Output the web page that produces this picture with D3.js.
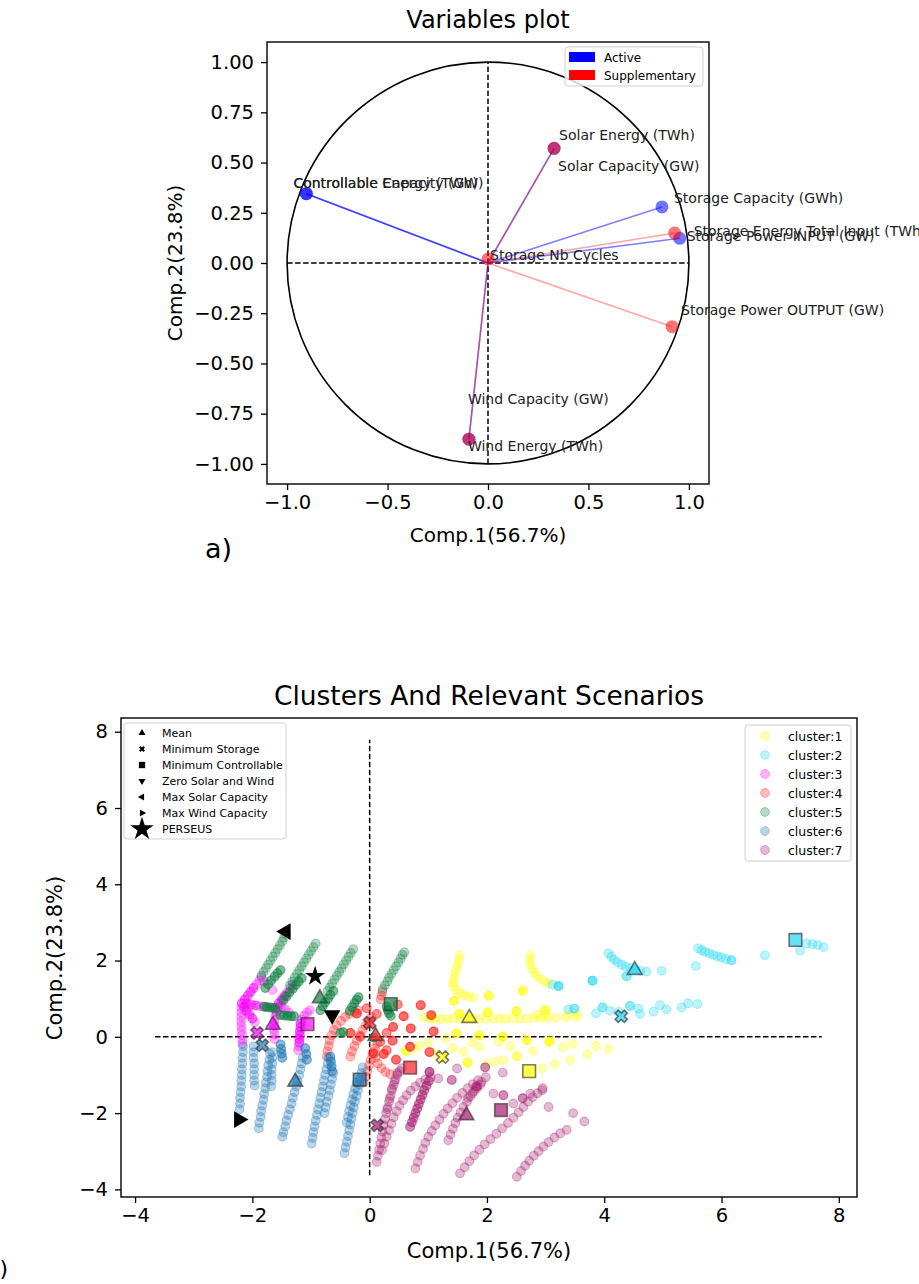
<html>
<head>
  <meta charset="utf-8">
  <style>
    body { margin: 0; background: #fff; }
    text { font-family: "DejaVu Sans", sans-serif; }
  </style>
</head>
<body>
<script src="https://d3js.org/d3.v7.min.js"></script>
<script>
// ---------- panel a) variables plot ----------
var varNames = ["Controllable Capacity (GW)", "Controllable Energy (TWh)", "Solar Capacity (GW)", "Solar Energy (TWh)",
  "Wind Capacity (GW)", "Wind Energy (TWh)", "Storage Capacity (GWh)", "Storage Power INPUT (GW)",
  "Storage Energy Total Input (TWh)", "Storage Power OUTPUT (GW)", "Storage Nb Cycles"];
var varComp1 = [-0.904, -0.904, 0.329, 0.329, -0.095, -0.095, 0.866, 0.954, 0.929, 0.916, 0.0];
var varComp2 = [0.345, 0.345, 0.571, 0.571, -0.877, -0.877, 0.279, 0.123, 0.149, -0.317, 0.02];
var varRole = ["Active", "Active", "Active", "Supplementary", "Active", "Supplementary",
  "Active", "Active", "Supplementary", "Supplementary", "Supplementary"];
var roleNames = ["Active", "Supplementary"];
var topXTicks = [-1.0, -0.5, 0.0, 0.5, 1.0];
var topYTicks = [-1.0, -0.75, -0.5, -0.25, 0.0, 0.25, 0.5, 0.75, 1.0];

// ---------- panel b) clusters (x, y, number of overlapping scenarios) ----------
var clusterNames = ["cluster:1", "cluster:2", "cluster:3", "cluster:4", "cluster:5", "cluster:6", "cluster:7"];
var cluster1 = [
  [1.53,2.14],[1.52,2.02],[1.50,1.90],[1.48,1.78],[1.46,1.66],[1.44,1.54],[1.42,1.42],[1.43,1.32],[1.48,1.22],[1.54,1.14],[1.61,1.09],[1.69,1.06],[1.77,1.03],
  [2.74,2.14],[2.73,2.02],[2.74,1.90],[2.77,1.78],[2.81,1.68],[2.86,1.58],[2.92,1.50],[2.99,1.44],[3.06,1.40],
  [0.92,0.52],[1.02,0.48],[1.12,0.47],[1.22,0.46],[1.32,0.47],[1.42,0.48],[1.54,0.47],[1.64,0.49],[1.76,0.47],[1.86,0.48],[1.98,0.47],[2.10,0.48],
  [2.22,0.48],[2.32,0.47],[2.44,0.49],[2.56,0.47],[2.68,0.48],[2.80,0.50],[2.92,0.48],[3.04,0.49],[3.18,0.50],[3.34,0.52],[3.52,0.52],
  [2.86,0.58],[3.00,0.58],[3.40,0.58],[3.55,0.60],
  [1.44,0.94,3],[2.03,1.08,3],[2.61,1.21,3],[1.53,0.60,3],[2.01,0.64,3],[2.50,0.67,3],[2.99,0.70,3],[1.48,0.09,3],[1.87,0.04,3],
  [2.27,0.00,3],[2.68,-0.09,3],[3.06,-0.13,3],[1.67,-0.67,3],[0.62,-0.37,3],[2.51,-0.51,2],[1.06,0.52,2],
  [0.85,-0.24],[1.00,-0.15],[1.29,-0.03],[1.60,-0.39],[1.87,-0.26],[2.20,-0.13],[2.79,-0.37],[3.08,-0.09],[3.46,-0.19],[3.86,-0.24],[4.07,-0.32],
  [2.00,-0.70],[2.14,-0.66],[2.28,-0.61],[2.94,-0.83],[3.16,-0.72],[3.42,-0.61],[3.71,-0.46],[1.10,-0.42],[1.42,-0.30],[2.40,-0.25],[3.30,-0.28],[1.75,-0.15],[0.75,-0.30]
];
var cluster2 = [
  [4.07,2.19],[4.12,2.10],[4.17,2.02],[4.23,1.95],[4.30,1.89],[4.37,1.84],[4.45,1.80],[4.53,1.76],[4.62,1.73],[4.72,1.71],
  [5.60,2.32],[5.66,2.27],[5.72,2.23],[5.79,2.19],[5.86,2.15],[5.93,2.11],[6.00,2.08],[6.08,2.04],[6.17,2.01,2],
  [6.74,2.14],[7.34,2.26],[7.45,2.45],[7.55,2.43],[7.64,2.41],[7.74,2.35],[4.98,1.73],[5.56,1.86],[3.80,1.47,3],[3.22,1.33,3],[3.12,1.37],[4.38,1.59,2],
  [3.39,0.72],[3.49,0.74,2],[3.86,0.61],[3.97,0.77,2],[4.10,0.68],[4.44,0.81,2],[4.61,0.60],[4.84,0.66],[4.95,0.83],[5.06,0.72],
  [5.32,0.77],[5.43,0.88],[5.59,0.86],[4.25,0.66],[4.58,0.74]
];
var cluster3 = [
  [-2.18,0.88,2],[-2.13,0.98,2],[-2.08,1.08,2],[-2.03,1.18,2],[-1.98,1.28,2],[-1.93,1.38],[-1.88,1.48],[-1.84,1.56],
  [-2.14,0.78,2],[-2.10,0.68,2],[-2.05,0.58,2],[-2.00,0.48,2],[-1.96,0.38],
  [-2.10,0.86,2],[-2.02,0.84,2],[-1.94,0.82,2],[-1.86,0.80],[-1.78,0.79],
  [-2.19,0.76],[-2.19,0.64],[-2.19,0.52],[-2.19,0.40],[-2.19,0.28],[-2.18,0.16],[-2.18,0.04],[-2.17,-0.08],[-2.17,-0.18],
  [-1.55,0.88,2],[-1.50,0.98,2],[-1.45,1.08,2],[-1.40,1.18],[-1.35,1.28],[-1.31,1.38],[-1.57,0.78,2],[-1.59,0.66,2],[-1.61,0.54],
  [-1.62,0.42],[-1.63,0.30],[-1.63,0.18],[-1.62,0.06],[-1.62,-0.06],[-1.50,0.80],[-1.44,0.72],[-1.38,0.64],
  [-1.22,-0.35],[-1.21,-0.25],[-1.20,-0.15,2],[-1.20,-0.05,2],[-1.19,0.05,2],[-1.19,0.15,2],[-1.18,0.25,2],[-1.18,0.35,2],
  [-1.16,0.45],[-1.12,0.55],[-1.07,0.63],[-1.02,0.70],[-1.66,1.23],[-1.80,1.45]
];
var cluster4 = [
  [-0.73,-0.52],[-0.72,-0.38],[-0.70,-0.24],[-0.68,-0.10],[-0.65,0.04],[-0.61,0.18],[-0.56,0.30],[-0.49,0.42],[-0.42,0.52],[-0.34,0.60],[-0.26,0.66],[-0.20,0.70],
  [-0.33,-0.52],[-0.30,-0.38],[-0.26,-0.24],[-0.22,-0.10],[-0.17,0.04],[-0.12,0.18],[-0.07,0.30],[-0.02,0.42],[0.03,0.52],
  [-0.10,-1.20],[-0.07,-1.05],[-0.04,-0.90],[-0.01,-0.75],[0.02,-0.60],[0.05,-0.45],[0.09,-0.30],[0.13,-0.17],
  [0.06,-0.40],[0.10,-0.55],[0.14,-0.70],[0.20,-0.82],[0.27,-0.92],[0.35,-0.98],[0.22,1.18],[0.20,1.08],[0.19,0.98],
  [0.87,0.83,3],[1.05,0.57,3],[0.58,0.54,3],[0.70,0.22,3],[1.09,0.14,3],[0.39,-0.10,3],[0.69,-0.26,3],[1.02,-0.40,3],[0.45,-0.60,3],
  [0.24,-0.45,3],[-0.22,0.61,3],[0.40,0.26,3],[0.29,0.10,2],[0.18,-0.13,2],[0.07,-0.44,2],[-0.33,0.10,3],[-0.16,0.00,2],[0.29,-0.35,2],
  [0.48,0.85,2],[0.12,0.60,2],[-0.05,0.75,2]
];
var cluster5 = [
  [-1.85,1.60],[-1.81,1.70],[-1.77,1.80],[-1.73,1.90],[-1.69,2.00],[-1.65,2.10],[-1.61,2.20],[-1.57,2.30],[-1.53,2.40],[-1.49,2.50],[-1.46,2.60],[-1.43,2.70],
  [-1.78,1.28,2],[-1.73,1.38,2],[-1.68,1.48,2],[-1.62,1.58,2],[-1.57,1.67,2],[-1.52,1.75,2],
  [-1.80,0.79,2],[-1.75,0.78,2],[-1.70,0.77,2],[-1.65,0.76,2],[-1.61,0.75,2],
  [-1.36,1.35],[-1.32,1.45],[-1.28,1.55],[-1.24,1.65],[-1.20,1.75],[-1.16,1.85],[-1.12,1.95],[-1.08,2.05],[-1.04,2.15],[-1.00,2.25],[-0.96,2.35],[-0.92,2.45],
  [-1.47,0.96,2],[-1.42,1.06,2],[-1.37,1.16,2],[-1.31,1.26,2],[-1.26,1.36,2],[-1.21,1.45,2],[-1.16,1.54,2],
  [-1.52,0.57,2],[-1.46,0.56,2],[-1.40,0.55,2],[-1.34,0.54,2],[-1.29,0.54,2],
  [-0.72,1.20],[-0.68,1.30],[-0.64,1.40],[-0.60,1.50],[-0.56,1.60],[-0.52,1.70],[-0.48,1.80],[-0.44,1.90],[-0.40,2.00],[-0.36,2.10],[-0.32,2.20],[-0.28,2.30],
  [-0.84,0.70,2],[-0.80,0.80,2],[-0.76,0.90,2],[-0.71,1.00,2],[-0.67,1.10,2],[-0.62,1.20,2],
  [-0.34,0.68,2],[-0.30,0.78,2],[-0.26,0.88,2],[-0.22,0.97,2],[-0.19,1.04,2],[-0.50,0.10,2],[-0.45,0.12,2],
  [0.22,1.25],[0.26,1.35],[0.30,1.45],[0.33,1.55],[0.37,1.65],[0.41,1.75],[0.45,1.85],[0.49,1.95],[0.53,2.05],[0.56,2.15],[0.59,2.22],
  [0.29,0.79,2],[0.31,0.70,2],[0.33,0.62,2],[0.36,0.55,2],[0.07,-0.02,2]
];
var cluster6 = [
  [-2.16,-0.25],[-2.16,-0.40],[-2.17,-0.55],[-2.17,-0.70],[-2.18,-0.85],[-2.18,-1.00],[-2.19,-1.15],[-2.19,-1.30],[-2.20,-1.45],[-2.21,-1.60],[-2.21,-1.75],[-2.22,-1.90],
  [-1.98,-0.25],[-1.98,-0.40],[-1.98,-0.55],[-1.97,-0.70],[-1.97,-0.85],[-1.97,-1.00],[-1.97,-1.15],[-1.96,-1.28],
  [-1.70,-0.45],[-1.71,-0.60],[-1.73,-0.75],[-1.74,-0.90],[-1.75,-1.05],[-1.77,-1.20],[-1.78,-1.35],[-1.80,-1.50],[-1.81,-1.65],[-1.83,-1.80],[-1.85,-1.95],[-1.86,-2.10],[-1.88,-2.25],[-1.89,-2.40],
  [-1.66,-0.40],[-1.66,-0.55],[-1.66,-0.70],[-1.67,-0.85],[-1.67,-1.00],[-1.67,-1.15],[-1.68,-1.30],
  [-1.52,-0.20,2],[-1.51,-0.32,2],[-1.50,-0.44,2],[-1.49,-0.55,2],
  [-1.14,-0.55],[-1.16,-0.70],[-1.18,-0.85],[-1.20,-1.00],[-1.23,-1.15],[-1.25,-1.30],[-1.28,-1.45],[-1.31,-1.60],[-1.33,-1.75],[-1.36,-1.90],[-1.39,-2.05],[-1.42,-2.20],[-1.44,-2.35],[-1.47,-2.50],[-1.49,-2.62],
  [-1.10,-0.30,2],[-1.08,-0.45,2],[-1.07,-0.60,2],
  [-0.70,-0.55],[-0.72,-0.70],[-0.74,-0.85],[-0.76,-1.00],[-0.78,-1.15],[-0.80,-1.30],[-0.82,-1.45],[-0.84,-1.60],[-0.86,-1.75],[-0.88,-1.90],[-0.90,-2.05],[-0.92,-2.20],[-0.94,-2.35],[-0.96,-2.50],[-0.97,-2.65],[-0.99,-2.80],
  [-0.67,-0.52,2],[-0.66,-0.65,2],[-0.65,-0.78,2],[-0.64,-0.90,2],
  [-0.62,-0.95],[-0.64,-1.10],[-0.66,-1.25],[-0.68,-1.40],[-0.70,-1.55],[-0.73,-1.70],[-0.75,-1.85],[-0.77,-2.00],
  [-0.12,-0.80],[-0.14,-0.95],[-0.16,-1.10],[-0.18,-1.25],[-0.20,-1.40],[-0.22,-1.55],[-0.25,-1.70],[-0.27,-1.85],[-0.29,-2.00],[-0.31,-2.15],[-0.33,-2.30],[-0.35,-2.45],[-0.37,-2.60],[-0.39,-2.75],[-0.41,-2.90],[-0.43,-3.05],
  [-0.22,-1.20],[-0.25,-1.35],[-0.28,-1.50],[-0.30,-1.65],[-0.33,-1.80],[-0.35,-1.95],[-0.37,-2.10],[-0.39,-2.25]
];
var cluster7 = [
  [0.12,-3.28],[0.14,-3.12],[0.16,-2.96],[0.18,-2.80],[0.20,-2.64],[0.22,-2.48],[0.24,-2.32],[0.26,-2.16],[0.28,-2.00],[0.31,-1.85],[0.33,-1.70],[0.36,-1.55],
  [0.38,-1.40],[0.41,-1.26],[0.44,-1.12],[0.47,-1.00],[0.51,-0.90],[0.55,-0.82],[0.30,-1.90],[0.34,-1.62],[0.38,-1.36],[0.42,-1.18],[0.47,-0.95],
  [0.21,-2.97],[0.25,-2.80],[0.29,-2.62],[0.33,-2.45],[0.37,-2.28],[0.41,-2.11],[0.46,-1.95],[0.51,-1.80],[0.57,-1.66],[0.63,-1.53],[0.70,-1.41],[0.78,-1.30],[0.86,-1.20],[0.95,-1.12],[1.04,-1.06],
  [0.78,-3.45],[0.82,-3.28],[0.86,-3.11],[0.91,-2.94],[0.95,-2.78],[1.00,-2.62],[1.06,-2.47],[1.12,-2.32],[1.19,-2.17],[1.26,-2.02],[1.33,-1.88],[1.41,-1.74],[1.49,-1.60],[1.58,-1.47],[1.67,-1.35],[1.76,-1.24],[1.85,-1.14],
  [0.69,-2.36,2],[0.72,-2.24,2],[0.75,-2.12,2],[0.78,-2.00,2],[0.81,-1.88,2],[0.84,-1.76,2],[0.87,-1.64,2],[0.90,-1.52,2],[0.93,-1.40,2],[0.97,-1.28,2],[1.01,-1.16,2],
  [1.02,-0.92,3],[1.40,-1.13,2],
  [1.34,-2.71],[1.38,-2.56],[1.42,-2.41],[1.46,-2.26],[1.50,-2.12],[1.55,-1.98],[1.60,-1.84],[1.66,-1.70],[1.72,-1.56],[1.78,-1.43],[1.84,-1.30],[1.91,-1.18],[1.98,-1.06],
  [1.68,-1.60],[1.75,-1.48],[1.82,-1.36],[1.89,-1.25],
  [1.54,-3.58],[1.62,-3.42],[1.70,-3.26],[1.78,-3.11],[1.87,-2.96],[1.96,-2.82],[2.06,-2.68],[2.16,-2.54],[2.26,-2.40],[2.36,-2.26],[2.45,-2.12],[2.54,-1.98],[2.62,-1.84],[2.70,-1.70],[2.78,-1.58],[2.86,-1.48],[2.94,-1.40],
  [2.51,-3.67],[2.58,-3.52],[2.65,-3.38],[2.72,-3.25],[2.80,-3.12],[2.88,-3.00],[2.96,-2.88],[3.05,-2.76],[3.15,-2.64],[3.25,-2.53],[3.36,-2.44],[3.66,-2.22],[3.47,-2.00],
  [1.82,-1.30,2],[1.97,-0.80,2],[2.27,-0.94],[2.61,-1.61,2],[2.11,-1.49],[2.28,-1.53,2],[2.45,-1.75],[2.74,-1.49],[2.95,-1.35],[3.05,-1.84],[1.49,-0.83],[1.17,-1.09]
];
var clusterPoints = [cluster1, cluster2, cluster3, cluster4, cluster5, cluster6, cluster7];

// relevant scenarios per cluster (null = not shown)
var meanX = [1.70, 4.52, -1.65, 0.10, -0.85, -1.27, 1.65];
var meanY = [0.49, 1.75, 0.31, 0.02, 1.01, -1.18, -2.06];
var minStorageX = [1.24, 4.29, -1.92, 0.00, null, -1.83, 0.13];
var minStorageY = [-0.53, 0.54, 0.10, 0.37, null, -0.22, -2.32];
var minControllableX = [2.72, 7.26, -1.06, 0.69, 0.36, -0.17, 2.24];
var minControllableY = [-0.90, 2.54, 0.33, -0.81, 0.86, -1.12, -1.92];

// single scenarios
var scenarioNames = ["Mean", "Minimum Storage", "Minimum Controllable", "Zero Solar and Wind", "Max Solar Capacity", "Max Wind Capacity", "PERSEUS"];
var zeroSolarWind = [-0.64, 0.57];
var maxSolarCapacity = [-1.43, 2.76];
var maxWindCapacity = [-2.23, -2.17];
var perseus = [-0.93, 1.59];

// dashed reference lines (data extents)
var refXExtent = [-3.66, 7.71];
var refYExtent = [-3.63, 7.79];
var botTicks = [-4, -2, 0, 2, 4, 6, 8];

// ================= drawing =================
var width = 919;
var height = 1284;

var svg = d3.select('body').append('svg')
  .attr('width', width)
  .attr('height', height);

svg.append('rect').attr('width', width).attr('height', height).attr('fill', '#fff');

// ---------- panel a ----------
var tx = d3.scaleLinear().domain([-1.1, 1.1]).range([267, 709]);
var ty = d3.scaleLinear().domain([-1.1, 1.1]).range([484, 42]);
var roleColor = { "Active": "#0000ff", "Supplementary": "#ff0000" };

var topG = svg.append('g');

// unit circle
topG.append('circle')
  .attr('cx', tx(0)).attr('cy', ty(0))
  .attr('r', tx(1) - tx(0))
  .attr('fill', 'none').attr('stroke', '#000').attr('stroke-width', 1.6);

// dashed axes
topG.append('line').attr('x1', tx(-1)).attr('x2', tx(1)).attr('y1', ty(0)).attr('y2', ty(0))
  .attr('stroke', '#000').attr('stroke-width', 1.5).attr('stroke-dasharray', '5.5,2.5');
topG.append('line').attr('x1', tx(0)).attr('x2', tx(0)).attr('y1', ty(-1)).attr('y2', ty(1))
  .attr('stroke', '#000').attr('stroke-width', 1.5).attr('stroke-dasharray', '5.5,2.5');

// lines from origin
for (var i = 0; i < varNames.length; i++) {
  topG.append('line')
    .attr('x1', tx(0)).attr('y1', ty(0))
    .attr('x2', tx(varComp1[i])).attr('y2', ty(varComp2[i]))
    .attr('stroke', roleColor[varRole[i]])
    .attr('stroke-opacity', varRole[i] == "Active" ? 0.5 : 0.35)
    .attr('stroke-width', 1.6);
}
for (var i = 0; i < varNames.length; i++) {
  topG.append('circle')
    .attr('cx', tx(varComp1[i])).attr('cy', ty(varComp2[i]))
    .attr('r', 6.5)
    .attr('fill', roleColor[varRole[i]])
    .attr('fill-opacity', 0.55);
}

// label offsets in pixels, same order as varNames
var labelOffset = [[-13, -6], [-13, -6], [4, 23], [5, -8], [-1, -35], [-1, 12], [12, -4], [7, 3], [19, 3], [9, -12], [2, 1]];
for (var i = 0; i < varNames.length; i++) {
  topG.append('text')
    .attr('x', tx(varComp1[i]) + labelOffset[i][0])
    .attr('y', ty(varComp2[i]) + labelOffset[i][1])
    .attr('font-size', 14)
    .attr('fill', '#222')
    .text(varNames[i]);
}

// frame + axes
topG.append('rect').attr('x', 267).attr('y', 42).attr('width', 442).attr('height', 442)
  .attr('fill', 'none').attr('stroke', '#000').attr('stroke-width', 1.4);

var topXAxis = topG.append('g').attr('transform', 'translate(0,484)')
  .call(d3.axisBottom(tx).tickValues(topXTicks).tickFormat(d3.format('.1f')).tickSize(6).tickPadding(5));
var topYAxis = topG.append('g').attr('transform', 'translate(267,0)')
  .call(d3.axisLeft(ty).tickValues(topYTicks).tickFormat(d3.format('.2f')).tickSize(6).tickPadding(7));

topG.append('text').attr('x', 488).attr('y', 28).attr('text-anchor', 'middle').attr('font-size', 24).text('Variables plot');
topG.append('text').attr('x', 488).attr('y', 542).attr('text-anchor', 'middle').attr('font-size', 20).text('Comp.1(56.7%)');
topG.append('text').attr('transform', 'translate(182,263) rotate(-90)').attr('text-anchor', 'middle').attr('font-size', 20).text('Comp.2(23.8%)');

// legend
var lg = topG.append('g');
lg.append('rect').attr('x', 565).attr('y', 47).attr('width', 138).attr('height', 39).attr('rx', 3)
  .attr('fill', '#fff').attr('fill-opacity', 0.8).attr('stroke', '#d0d0d0');
for (var i = 0; i < roleNames.length; i++) {
  lg.append('rect').attr('x', 569).attr('y', 52 + i * 18).attr('width', 26).attr('height', 10).attr('fill', roleColor[roleNames[i]]);
  lg.append('text').attr('x', 604).attr('y', 61.5 + i * 18).attr('font-size', 12).text(roleNames[i]);
}

svg.append('text').attr('x', 205).attr('y', 558).attr('font-size', 27).text('a)');

// ---------- panel b ----------
var bx = d3.scaleLinear().domain([-4.24, 8.31]).range([121, 857]);
var by = d3.scaleLinear().domain([-4.2, 8.36]).range([1197, 718]);
var clusterColors = ["#ffff00", "#22d6f2", "#ff00ff", "#ff2020", "#0b8040", "#1f77b4", "#a51b6d"];

var botG = svg.append('g');

// dashed reference lines
botG.append('line').attr('x1', bx(refXExtent[0])).attr('x2', bx(refXExtent[1])).attr('y1', by(0)).attr('y2', by(0))
  .attr('stroke', '#000').attr('stroke-width', 1.5).attr('stroke-dasharray', '5.5,2.5');
botG.append('line').attr('x1', bx(0)).attr('x2', bx(0)).attr('y1', by(refYExtent[0])).attr('y2', by(refYExtent[1]))
  .attr('stroke', '#000').attr('stroke-width', 1.5).attr('stroke-dasharray', '5.5,2.5');

// scenario points
for (var c = 0; c < clusterPoints.length; c++) {
  var pts = clusterPoints[c];
  for (var j = 0; j < pts.length; j++) {
    var n = pts[j][2] || 1;
    for (var k = 0; k < n; k++) {
      botG.append('circle')
        .attr('cx', bx(pts[j][0])).attr('cy', by(pts[j][1]))
        .attr('r', 4.4)
        .attr('fill', clusterColors[c]).attr('fill-opacity', 0.3)
        .attr('stroke', clusterColors[c]).attr('stroke-opacity', 0.32).attr('stroke-width', 1.1);
    }
  }
}

// marker shapes
function drawMarker(g, type, x, y, size, fill, fillOpacity, stroke) {
  var shape = d3.symbolTriangle, rot = 0;
  if (type == 'x') { shape = d3.symbolCross; rot = 45; }
  if (type == 's') { shape = d3.symbolSquare; }
  if (type == 'v') { rot = 180; }
  if (type == '<') { rot = -90; }
  if (type == '>') { rot = 90; }
  if (type == '*') { shape = d3.symbolStar; }
  g.append('path')
    .attr('d', d3.symbol().type(shape).size(size)())
    .attr('transform', 'translate(' + x + ',' + y + ') rotate(' + rot + ')')
    .attr('fill', fill).attr('fill-opacity', fillOpacity)
    .attr('stroke', stroke).attr('stroke-opacity', 0.65).attr('stroke-width', stroke == 'none' ? 0 : 1.6);
}

for (var c = 0; c < clusterColors.length; c++) {
  drawMarker(botG, '^', bx(meanX[c]), by(meanY[c]), 95, clusterColors[c], 0.7, '#333');
  if (minStorageX[c] != null) drawMarker(botG, 'x', bx(minStorageX[c]), by(minStorageY[c]), 95, clusterColors[c], 0.7, '#333');
  drawMarker(botG, 's', bx(minControllableX[c]), by(minControllableY[c]), 160, clusterColors[c], 0.7, '#333');
}
drawMarker(botG, 'v', bx(zeroSolarWind[0]), by(zeroSolarWind[1]), 120, '#000', 1, 'none');
drawMarker(botG, '<', bx(maxSolarCapacity[0]), by(maxSolarCapacity[1]), 120, '#000', 1, 'none');
drawMarker(botG, '>', bx(maxWindCapacity[0]), by(maxWindCapacity[1]), 120, '#000', 1, 'none');
drawMarker(botG, '*', bx(perseus[0]), by(perseus[1]), 125, '#000', 1, 'none');

// frame + axes
botG.append('rect').attr('x', 121).attr('y', 718).attr('width', 736).attr('height', 479)
  .attr('fill', 'none').attr('stroke', '#000').attr('stroke-width', 1.4);
var botXAxis = botG.append('g').attr('transform', 'translate(0,1197)')
  .call(d3.axisBottom(bx).tickValues(botTicks).tickFormat(d3.format('d')).tickSize(6).tickPadding(5));
var botYAxis = botG.append('g').attr('transform', 'translate(121,0)')
  .call(d3.axisLeft(by).tickValues(botTicks).tickFormat(d3.format('d')).tickSize(6).tickPadding(7));

botG.append('text').attr('x', 489).attr('y', 705).attr('text-anchor', 'middle').attr('font-size', 26.5).text('Clusters And Relevant Scenarios');
botG.append('text').attr('x', 489).attr('y', 1258).attr('text-anchor', 'middle').attr('font-size', 21).text('Comp.1(56.7%)');
botG.append('text').attr('transform', 'translate(62,958) rotate(-90)').attr('text-anchor', 'middle').attr('font-size', 21).text('Comp.2(23.8%)');

// scenario legend (upper left)
var sl = botG.append('g');
sl.append('rect').attr('x', 124).attr('y', 723).attr('width', 162).attr('height', 116).attr('rx', 3)
  .attr('fill', '#fff').attr('fill-opacity', 0.8).attr('stroke', '#d0d0d0');
var legendTypes = ['^', 'x', 's', 'v', '<', '>', '*'];
var legendSizes = [22, 22, 40, 22, 22, 22, 170];
for (var i = 0; i < scenarioNames.length; i++) {
  var ly = 733 + i * 16;
  drawMarker(sl, legendTypes[i], 142, ly, legendSizes[i], '#000', 1, 'none');
  sl.append('text').attr('x', 162).attr('y', ly + 4).attr('font-size', 11).text(scenarioNames[i]);
}

// cluster legend (upper right)
var cl = botG.append('g');
cl.append('rect').attr('x', 745).attr('y', 725).attr('width', 106).attr('height', 136).attr('rx', 3)
  .attr('fill', '#fff').attr('fill-opacity', 0.8).attr('stroke', '#d0d0d0');
for (var i = 0; i < clusterNames.length; i++) {
  var cy = 736 + i * 19;
  cl.append('circle').attr('cx', 765).attr('cy', cy).attr('r', 4.4)
    .attr('fill', clusterColors[i]).attr('fill-opacity', 0.3)
    .attr('stroke', clusterColors[i]).attr('stroke-opacity', 0.32);
  cl.append('text').attr('x', 788).attr('y', cy + 4.5).attr('font-size', 12.5).text(clusterNames[i]);
}

svg.append('text').attr('x', 8).attr('y', 1276).attr('text-anchor', 'end').attr('font-size', 22).text('b)');

// axis styling
svg.selectAll('.tick text').attr('font-size', 19.5).attr('font-family', '"DejaVu Sans", sans-serif').attr('fill', '#000');
svg.selectAll('.tick line').attr('stroke', '#000').attr('stroke-width', 1.3);
svg.selectAll('.domain').remove();
</script>
</body>
</html>
